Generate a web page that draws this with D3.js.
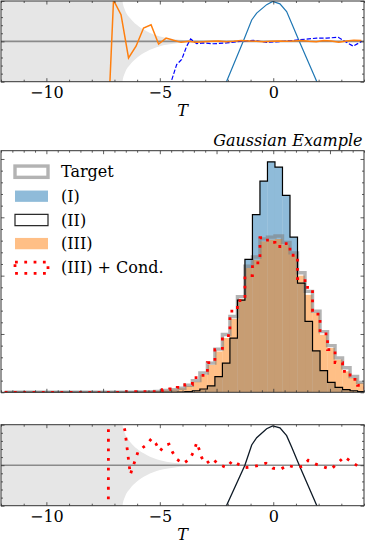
<!DOCTYPE html>
<html><head><meta charset="utf-8">
<script src="https://cdn.jsdelivr.net/npm/d3@7"></script>
<style>body{margin:0;background:#fff}</style>
</head><body><svg id="c" width="365" height="546" xmlns="http://www.w3.org/2000/svg"></svg>
<script>
// ---------------- data ----------------
const binStart = -11.84, binWidth = 0.331;   // 48 bins
const target = [0,0,0,0,0,0,0,0,0,0,0,0,0,0,0,0,0,0,0.0005,0.001,0.0015,0.003,0.0045,0.007,0.012,0.020,0.033,0.050,0.074,0.099,0.130,0.164,0.216,0.232,0.263,0.266,0.268,0.257,0.239,0.205,0.173,0.139,0.104,0.080,0.059,0.042,0.027,0.017];
const seriesI = [0,0,0,0,0,0,0,0,0,0,0,0,0,0,0,0,0,0,0,0,0,0,0,0.0005,0.0012,0.0027,0.0057,0.011,0.027,0.050,0.093,0.158,0.228,0.3045,0.362,0.395,0.386,0.3376,0.266,0.187,0.1215,0.071,0.037,0.017,0.0084,0.0045,0.0027,0.0012];
const seriesII = [0,0,0,0,0,0,0,0,0,0,0,0,0,0,0,0,0,0,0,0,0,0,0,0.0005,0.0012,0.0027,0.0057,0.011,0.027,0.050,0.093,0.158,0.228,0.3045,0.362,0.395,0.386,0.3376,0.266,0.187,0.1215,0.071,0.037,0.017,0.0084,0.0045,0.0027,0.0012];
const seriesIII = [0,0,0,0,0,0,0,0,0,0,0,0,0,0,0.0003,0.0004,0.0005,0.0007,0.001,0.0015,0.002,0.0035,0.005,0.007,0.011,0.018,0.030,0.047,0.070,0.093,0.126,0.160,0.213,0.227,0.2587,0.2616,0.2628,0.253,0.236,0.200,0.167,0.136,0.0987,0.076,0.056,0.036,0.0245,0.016];
const seriesIIIc = [0,0,0,0,0,0,0,0,0,0,0,0,0,0,0,0,0.001,0.001,0.001,0.001,0.001,0.0046,0.0057,0.0085,0.013,0.025,0.029,0.051,0.073,0.097,0.139,0.157,0.200,0.222,0.265,0.257,0.250,0.255,0.235,0.195,0.180,0.134,0.100,0.073,0.051,0.036,0.022,0.012];

// top panel: ratio curves
const ratioFirstBin = 13;
const ratioIII = [-3.2,1.02,0.66,-0.41,-0.12,0.33,0.41,-0.065,0.08,0.025,-0.025,0.0,-0.02,-0.01,0.0,0.01,-0.01,0.0,0.02,0.01,0.0,-0.01,0.0,0.01,0.0,0.01,0.02,0.0,-0.01,0.02,0.01,-0.02,0.01,0.03,0.02];
const dashedT = [-4.728,-4.257,-4.036,-3.816,-3.64,-3.375,-3.084,-2.643,-2.053,-1.467,-0.88,-0.29,0.442,1.178,1.913,2.354,2.865,3.086,3.527,3.897];
const dashedV = [-1.4,-0.575,-0.45,-0.12,0.06,-0.057,-0.04,-0.06,-0.04,0,0.025,-0.025,0,0.04,0.08,0.08,0.1,0.025,-0.12,0];
const curveT = [-2.4,-2.053,-1.322,-0.95,-0.731,-0.29,-0.026,0.295,0.59,0.81,1.146,1.913,2.3];
const curveV = [-1.46,-0.99,0,0.53,0.70,0.91,0.99,0.93,0.74,0.45,0,-0.99,-1.5];
// bottom panel
const blackT = [-2.4,-2.053,-1.25,-0.95,-0.731,-0.29,-0.026,0.295,0.59,0.81,1.146,1.913,2.3];
const blackV = [-1.46,-0.99,0,0.50,0.68,0.90,0.97,0.92,0.73,0.45,0,-0.99,-1.5];
const redT = [-7.271,-7.262,-6.535,-6.30,-5.949,-5.623,-5.358,-5.182,-4.99,-4.80,-4.596,-4.45,-4.257,-3.966,-3.67,-3.481,-3.375,-3.26,-3.155,-2.965,-2.67,-2.423,-2.053,-1.806,-1.542,-1.246,-0.925,-0.616,-0.321,-0.026,0.327,0.618,1.001,1.323,1.543,1.883,2.204,2.544,2.839,3.13,3.425,3.721,3.95];
const redV = [-2.5,2.5,0.85,-0.23,0.35,0.49,0.66,0.54,0.35,0.49,0.52,0.33,0.15,0.04,0.16,0.37,0.56,0.38,0.19,0.04,0.16,0.025,-0.06,0.11,0.025,-0.06,-0.04,0,0.05,-0.074,-0.1,0,-0.06,-0.02,0.12,0.025,-0.04,-0.1,0.05,0.21,0.09,-0.02,0.0];
// uncertainty band (half width)
const bandT = [-12,-6.689,-6.645,-6.535,-6.315,-6.019,-5.579,-4.992,-4.42,-3.803,-3.23,-1.907,4.0];
const bandW = [10,10,1.0,0.78,0.58,0.41,0.25,0.12,0.06,0.025,0.01,0.005,0.003];

const xTickLabels = [-10,-5,0];
const legendLabels = ["Target","(I)","(II)","(III)","(III) + Cond."];
const titleText = "Gaussian Example";

// ---------------- drawing ----------------
const svg = d3.select("#c");
const FONT = "DejaVu Serif";
const L = 1, R = 364;
const P = {
  top:  {t:1, b:81.7},
  main: {t:150.7, b:392.3},
  bot:  {t:424.7, b:505.7}
};
const x = d3.scaleLinear([-12,4],[L,R]);
const yTop = d3.scaleLinear([-1,1],[P.top.b,P.top.t]);
const yMain = d3.scaleLinear([0,0.4142],[P.main.b,P.main.t]);
const yBot = d3.scaleLinear([-1,1],[P.bot.b,P.bot.t]);

const defs = svg.append("defs");
function clip(id, p){ defs.append("clipPath").attr("id",id).append("rect").attr("x",L).attr("y",p.t).attr("width",R-L).attr("height",p.b-p.t); }
clip("cTop",P.top); clip("cMain",P.main); clip("cBot",P.bot);

const edges = d3.range(49).map(i => binStart + i*binWidth);
const centers = d3.range(48).map(i => binStart + (i+0.5)*binWidth);

function band(g, y){
  const pts = bandT.map((t,i)=>({t, w:bandW[i]}));
  g.append("path").datum(pts)
    .attr("d", d3.area().x(d=>x(d.t)).y0(d=>y(-d.w)).y1(d=>y(d.w)).curve(d3.curveMonotoneX))
    .attr("fill","#e6e6e6");
  g.append("line").attr("x1",L).attr("x2",R).attr("y1",y(0)).attr("y2",y(0))
    .attr("stroke","#8a8a8a").attr("stroke-width",1.6);
}
function lineXY(ts, vs, y){ return d3.line().x((d,i)=>x(ts[i])).y(d=>y(d))(vs); }

// ---- top panel
const gT = svg.append("g").attr("clip-path","url(#cTop)");
band(gT, yTop);
gT.append("path").attr("d", lineXY(curveT, curveV, yTop)).attr("fill","none").attr("stroke","#1f77b4").attr("stroke-width",1.2);
gT.append("path").attr("d", lineXY(dashedT, dashedV, yTop)).attr("fill","none").attr("stroke","#0000ff").attr("stroke-width",1.2).attr("stroke-dasharray","4.4,1.9");
const orangeT = ratioIII.map((v,i)=>centers[ratioFirstBin+i]);
gT.append("path").attr("d", lineXY(orangeT, ratioIII, yTop)).attr("fill","none").attr("stroke","#ff7f0e").attr("stroke-width",1.5);

// ---- main panel
const gM = svg.append("g").attr("clip-path","url(#cMain)");
function bars(vals, color){
  gM.append("g").selectAll("rect").data(vals.map((v,i)=>({v,i})).filter(d=>d.v>0)).join("rect")
    .attr("x",d=>x(edges[d.i])).attr("width",d=>x(edges[d.i+1])-x(edges[d.i]))
    .attr("y",d=>yMain(d.v)).attr("height",d=>yMain(0)-yMain(d.v))
    .attr("fill",color).attr("fill-opacity",0.5);
}
function step(vals){
  const pts = [[edges[0],0]];
  vals.forEach((v,i)=>{ pts.push([edges[i],v]); pts.push([edges[i+1],v]); });
  pts.push([edges[48],0]);
  return d3.line().x(d=>x(d[0])).y(d=>yMain(d[1]))(pts);
}
bars(seriesI, "#1f77b4");
bars(seriesIII, "#ff7f0e");
gM.append("path").attr("d",step(target)).attr("fill","none").attr("stroke","#808080").attr("stroke-opacity",0.6).attr("stroke-width",3.4);
gM.append("path").attr("d",step(seriesII)).attr("fill","none").attr("stroke","#000").attr("stroke-width",1.2);
gM.append("path").attr("d",step(seriesIIIc)).attr("fill","none").attr("stroke","#ff0000").attr("stroke-width",2.8).attr("stroke-dasharray","2.8,6.5");

// ---- bottom panel
const gB = svg.append("g").attr("clip-path","url(#cBot)");
band(gB, yBot);
gB.append("path").attr("d", lineXY(blackT, blackV, yBot)).attr("fill","none").attr("stroke","#0e1a26").attr("stroke-width",1.3);
gB.append("path").attr("d", lineXY(redT, redV, yBot)).attr("fill","none").attr("stroke","#ff0000").attr("stroke-width",2.8).attr("stroke-dasharray","2.8,6.8");

// ---- axes, ticks, frames
function tickSet(axisFn, scale, vals, size, tr){
  const g = svg.append("g").attr("transform",tr)
    .call(axisFn(scale).tickValues(vals).tickSize(-size).tickFormat(""));
  g.select(".domain").remove();
  g.selectAll("line").attr("stroke","#333").attr("stroke-width",0.8);
}
function frame(p, xMaj, xMin, yS, yMaj, yMin){
  tickSet(d3.axisBottom, x, xMaj, 3.5, `translate(0,${p.b})`);
  tickSet(d3.axisBottom, x, xMin, 2, `translate(0,${p.b})`);
  tickSet(d3.axisTop, x, xMaj, 3.5, `translate(0,${p.t})`);
  tickSet(d3.axisTop, x, xMin, 2, `translate(0,${p.t})`);
  tickSet(d3.axisLeft, yS, yMaj, 3.5, `translate(${L},0)`);
  tickSet(d3.axisLeft, yS, yMin, 2, `translate(${L},0)`);
  tickSet(d3.axisRight, yS, yMaj, 3.5, `translate(${R},0)`);
  tickSet(d3.axisRight, yS, yMin, 2, `translate(${R},0)`);
  svg.append("rect").attr("x",L).attr("y",p.t).attr("width",R-L).attr("height",p.b-p.t)
    .attr("fill","none").attr("stroke","#333").attr("stroke-width",1);
}
const near = (a,b)=>Math.abs(a-b)<1e-6;
const xMajS = [-10,-5,0];
const xMinS = d3.range(-12,5,1).filter(v=>!xMajS.some(m=>near(m,v)));
const xMajM = [-10,-7.5,-5,-2.5,0,2.5];
const xMinM = d3.range(-12,4.01,0.5).filter(v=>!xMajM.some(m=>near(m,v)));
const yMajS = [-1,0,1];
const yMinS = d3.range(-0.8,0.81,0.2).filter(v=>!yMajS.some(m=>near(m,v)));
const yMajM = d3.range(0,0.41,0.1);
const yMinM = d3.range(0,0.414,0.02).filter(v=>!yMajM.some(m=>near(m,v)));
frame(P.top, xMajS, xMinS, yTop, yMajS, yMinS);
frame(P.main, xMajM, xMinM, yMain, yMajM, yMinM);
frame(P.bot, xMajS, xMinS, yBot, yMajS, yMinS);

function labels(p){
  const g = svg.append("g").attr("transform",`translate(0,${p.b})`)
    .call(d3.axisBottom(x).tickValues(xTickLabels).tickSize(0).tickPadding(5)
      .tickFormat(d=> d<0 ? "\u2212"+Math.abs(d) : String(d)));
  g.select(".domain").remove();
  g.attr("font-family",FONT).attr("font-size",16);
  g.selectAll("text").attr("fill","#000");
  svg.append("text").attr("x",(L+R)/2).attr("y",p.b+34.5).attr("text-anchor","middle")
    .attr("font-family",FONT).attr("font-style","italic").attr("font-size",16).text("T");
}
labels(P.top); labels(P.bot);

// title
svg.append("text").attr("x",362.5).attr("y",146).attr("text-anchor","end")
  .attr("font-family",FONT).attr("font-style","italic").attr("font-size",16).text(titleText);

// legend
const lg = svg.append("g");
const rowY = [171.7,196.2,220,243.6,267.7];
const hx = 15, hw = 33, hh = 11.3;
legendLabels.forEach((lab,i)=>{
  const cy = rowY[i];
  const r = lg.append("rect").attr("x",hx).attr("y",cy-hh/2).attr("width",hw).attr("height",hh);
  if(i===0) r.attr("fill","#fff").attr("stroke","#808080").attr("stroke-opacity",0.6).attr("stroke-width",3.4);
  if(i===1) r.attr("fill","#1f77b4").attr("fill-opacity",0.5);
  if(i===2) r.attr("fill","none").attr("stroke","#222").attr("stroke-width",1.2);
  if(i===3) r.attr("fill","#ff7f0e").attr("fill-opacity",0.5);
  if(i===4) r.attr("fill","none").attr("stroke","#ff0000").attr("stroke-width",2.8).attr("stroke-dasharray","2.8,6.5");
  lg.append("text").attr("x",61).attr("y",cy+5.6).attr("font-family",FONT).attr("font-size",16).text(lab);
});
</script></body></html>
